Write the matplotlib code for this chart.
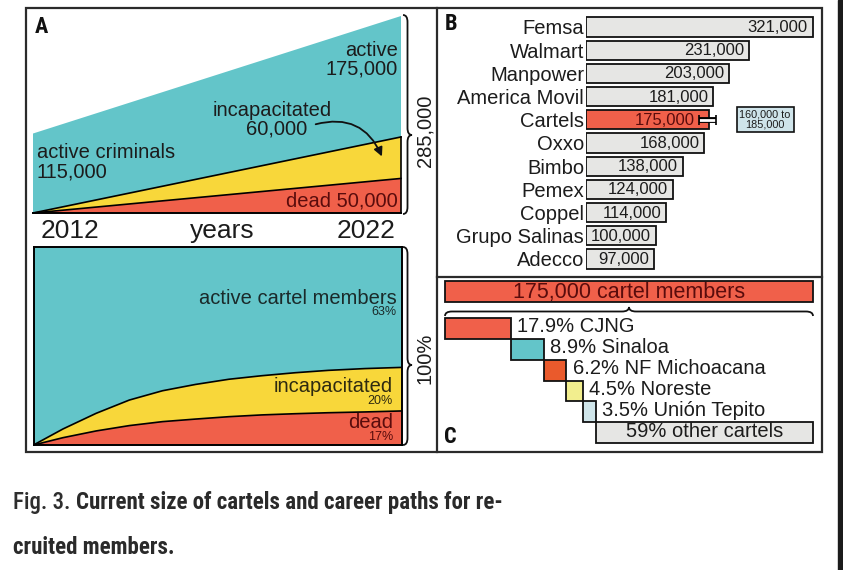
import matplotlib
matplotlib.use('Agg')
import numpy as np
import matplotlib.pyplot as plt
from matplotlib import font_manager
from matplotlib.path import Path
from matplotlib.patches import PathPatch, Rectangle, FancyArrowPatch

# ---- data ----
# A (top): people recruited 2012 -> 2022
years = [2012, 2022]
dead_n = [0, 50000]
incap_n = [0, 60000]
active_n = [115000, 175000]

# A (bottom): career path shares over time
t_share = [0, 0.08, 0.17, 0.26, 0.35, 0.44, 0.53, 0.62, 0.71, 0.80, 0.90, 1.0]
dead_pct = [0, 3.7, 7.1, 9.8, 11.8, 13.1, 14.3, 15.2, 15.8, 16.3, 16.7, 17.2]
incap_pct = [0, 4.4, 8.9, 12.9, 15.6, 17.5, 18.9, 19.8, 20.7, 21.4, 21.9, 22.0]

# B: largest employers in Mexico
companies = ['Femsa', 'Walmart', 'Manpower', 'America Movil', 'Cartels', 'Oxxo',
             'Bimbo', 'Pemex', 'Coppel', 'Grupo Salinas', 'Adecco']
employees = [321000, 231000, 203000, 181000, 175000, 168000, 138000, 124000,
             114000, 100000, 97000]
cartel_low, cartel_high = 160000, 185000

# C: share by cartel
cartel_total = 175000
cartel_names = ['CJNG', 'Sinaloa', 'NF Michoacana', 'Noreste', 'Unión Tepito', 'other cartels']
cartel_share = [17.9, 8.9, 6.2, 4.5, 3.5, 59]

# ---- style ----
CYAN = '#63c5c9'
YELLOW = '#f8d73a'
RED = '#f0604a'
GREY = '#e6e6e4'
TXT = '#1c1c1c'
DARKRED = '#5a0c0c'
c_colors = [RED, CYAN, '#ea5a2c', '#f2ee8e', '#cfe5ea', GREY]

names = {f.name for f in font_manager.fontManager.ttflist}
cond_font = next((n for n in ['Roboto Condensed', 'Liberation Sans Narrow', 'Open Sans Condensed', 'Roboto']
                  if n in names), 'DejaVu Sans')
is_cond = ('Cond' in cond_font) or ('Narrow' in cond_font)

plt.rcParams['font.family'] = ['Liberation Sans', 'DejaVu Sans']

W, H = 843, 570
fig = plt.figure(figsize=(W / 100, H / 100), dpi=100)


def box(x0, y0, x1, y1):
    return [x0 / W, 1 - y1 / H, (x1 - x0) / W, (y1 - y0) / H]


# ---- A top ----
ax1 = fig.add_axes(box(33, 16, 401, 213))
ax1.stackplot(years, dead_n, incap_n, active_n, colors=[RED, YELLOW, CYAN], linewidth=0)
cum = np.array(dead_n) + np.array(incap_n)
ax1.plot(years, dead_n, color='black', lw=1.2, clip_on=False)
ax1.plot(years, cum, color='black', lw=1.2, clip_on=False)
ax1.plot(years, [0, 0], color='black', lw=1.4, clip_on=False)
ax1.plot([years[-1]] * 2, [0, cum[-1]], color='black', lw=1.2, clip_on=False)
ax1.set_xlim(years[0], years[-1])
ax1.set_ylim(0, dead_n[-1] + incap_n[-1] + active_n[-1])
ax1.axis('off')

# ---- A bottom ----
ax2 = fig.add_axes(box(33.5, 247, 402, 445))
active_pct = 100 - np.array(dead_pct) - np.array(incap_pct)
ax2.stackplot(t_share, dead_pct, incap_pct, active_pct, colors=[RED, YELLOW, CYAN], linewidth=0)
ax2.plot(t_share, dead_pct, color='black', lw=1.2)
ax2.plot(t_share, np.array(dead_pct) + np.array(incap_pct), color='black', lw=1.2)
ax2.set_xlim(0, 1)
ax2.set_ylim(0, 100)
ax2.set_xticks([])
ax2.set_yticks([])
for s in ax2.spines.values():
    s.set_linewidth(1.4)
    s.set_color('black')

# ---- B ----
ax3 = fig.add_axes(box(585.5, 15, 822, 272))
rows = np.arange(len(companies))
bcolors = [RED if c == 'Cartels' else GREY for c in companies]
ax3.barh(rows, employees, height=0.82, color=bcolors, edgecolor='#111111', linewidth=1.3)
px = 321000 / 227.0
for r, c, v in zip(rows, companies, employees):
    off = 15 if c == 'Cartels' else 5
    ax3.text(v - off * px, r + 0.02, f'{v:,}', ha='right', va='center', fontsize=12,
             color=DARKRED if c == 'Cartels' else TXT)
ci = companies.index('Cartels')
ax3.plot([cartel_low, cartel_high], [ci, ci], color='black', lw=4.2, solid_capstyle='butt')
ax3.plot([cartel_low, cartel_high], [ci, ci], color='white', lw=2.0, solid_capstyle='butt')
ax3.vlines([cartel_low, cartel_high], ci - 0.22, ci + 0.22, color='black', lw=1.2)
ax3.text(254000, ci, f'{cartel_low:,} to\n{cartel_high:,}', ha='center', va='center',
         fontsize=7.8, color=TXT, linespacing=0.95,
         bbox=dict(boxstyle='square,pad=0.25', fc='#cfe4ea', ec='#111111', lw=1.2))
ax3.set_yticks(rows)
ax3.set_yticklabels(companies, fontsize=14.5, color=TXT)
ax3.tick_params(axis='y', length=0, pad=1)
ax3.set_xticks([])
ax3.set_xlim(0, (822 - 585.5) * px)
ax3.set_ylim((272 - 27) / 23.2, (15 - 27) / 23.2)
for s in ax3.spines.values():
    s.set_visible(False)

# ---- C ----
ax4 = fig.add_axes(box(440, 275, 818, 447))
ax4.barh(-1.27, 100, height=1.0, left=0, color=RED, edgecolor='#111111', linewidth=1.3)
ax4.text(50, -1.25, f'{cartel_total:,} cartel members', ha='center', va='center',
         fontsize=15.5, color=DARKRED)
lefts = np.concatenate([[0], np.cumsum(cartel_share)[:-1]])
for i, (n, s, l, col) in enumerate(zip(cartel_names, cartel_share, lefts, c_colors)):
    ax4.barh(i + 0.5, s, height=1.0, left=l, color=col, edgecolor='#111111', linewidth=1.3)
    if i < len(cartel_names) - 1:
        ax4.text(l + s + 1.7, i + 0.42, f'{s}% {n}', ha='left', va='center', fontsize=14.5, color=TXT)
    else:
        ax4.text(l + s / 2, i + 0.45, f'{s}% {n}', ha='center', va='center', fontsize=14.5, color=TXT)
ax4.set_xlim(-5 / 3.68, 100 + 5 / 3.68)
ax4.set_ylim(6 + 4 / 20.8, (275 - 318) / 20.8)
ax4.axis('off')

# ---- overlay: frames, braces, labels, caption ----
ov = fig.add_axes([0, 0, 1, 1])
ov.set_xlim(0, W)
ov.set_ylim(H, 0)
ov.axis('off')

frame = dict(color='#2b2b2b', lw=1.6)
ov.add_patch(Rectangle((26, 8), 796, 444, fill=False, ec='#2b2b2b', lw=1.6))
ov.plot([437, 437], [8, 452], **frame)
ov.plot([437, 822], [277, 277], **frame)


def brace(x, y0, y1, ym, w, r, horizontal=False):
    pts = [(0, y0), (w / 2, y0), (w / 2, y0 + r), (w / 2, ym - r),
           (w / 2, ym), (w, ym), (w / 2, ym), (w / 2, ym + r),
           (w / 2, y1 - r), (w / 2, y1), (0, y1)]
    codes = [Path.MOVETO, Path.CURVE3, Path.CURVE3, Path.LINETO,
             Path.CURVE3, Path.CURVE3, Path.CURVE3, Path.CURVE3,
             Path.LINETO, Path.CURVE3, Path.CURVE3]
    if horizontal:
        pts = [(v, x - u) for u, v in pts]
    else:
        pts = [(x + u, v) for u, v in pts]
    ov.add_patch(PathPatch(Path(pts, codes), fill=False, ec='#111111', lw=1.3))


brace(403, 15, 214, 135, 9, 7)
brace(403, 247, 445, 365, 9, 7)
brace(316, 445, 813, 629, 9, 7, horizontal=True)

ov.text(425, 131, '285,000', rotation=90, ha='center', va='center', fontsize=14.5, color=TXT)
ov.text(425, 358, '100%', rotation=90, ha='center', va='center', fontsize=14.5, color=TXT)

# panel A top labels
ov.text(398, 50, 'active', ha='right', va='center', fontsize=14.5, color=TXT)
ov.text(398, 69, '175,000', ha='right', va='center', fontsize=14.5, color=TXT)
ov.text(37, 153, 'active criminals', ha='left', va='center', fontsize=14.5, color=TXT)
ov.text(37, 172, '115,000', ha='left', va='center', fontsize=14.5, color=TXT)
ov.text(272, 110, 'incapacitated', ha='center', va='center', fontsize=14.5, color=TXT)
ov.text(277, 129, '60,000', ha='center', va='center', fontsize=14.5, color=TXT)
ov.text(398, 201, 'dead 50,000', ha='right', va='center', fontsize=14.5, color=DARKRED)
ov.add_patch(FancyArrowPatch((313, 125), (383, 159), connectionstyle='arc3,rad=-0.45',
                             arrowstyle='-|>', mutation_scale=13, lw=1.3, color='#111111'))
ov.text(41, 231, '2012', ha='left', va='center', fontsize=19, color=TXT)
ov.text(222, 231, 'years', ha='center', va='center', fontsize=19, color=TXT)
ov.text(396, 231, '2022', ha='right', va='center', fontsize=19, color=TXT)

# panel A bottom labels
ov.text(397, 298, 'active cartel members', ha='right', va='center', fontsize=14.5, color='#1a2a2a')
ov.text(397, 312, '63%', ha='right', va='center', fontsize=9, color='#1a2a2a')
ov.text(393, 386, 'incapacitated', ha='right', va='center', fontsize=14.5, color='#2e2a10')
ov.text(393, 401, '20%', ha='right', va='center', fontsize=9, color='#2e2a10')
ov.text(393, 422, 'dead', ha='right', va='center', fontsize=14.5, color=DARKRED)
ov.text(393, 437, '17%', ha='right', va='center', fontsize=9, color=DARKRED)

# panel letters
for lab, x, y in [('A', 35, 27), ('B', 445, 24), ('C', 444, 437)]:
    ov.text(x, y, lab, ha='left', va='center', fontsize=16, fontweight='bold',
            family=[cond_font, 'DejaVu Sans'], color='#111111')

# caption
cap_size = 16.5 if is_cond else 14.5
cap_fam = [cond_font, 'DejaVu Sans']
t1 = ov.text(13, 502, 'Fig. 3. ', ha='left', va='center', fontsize=cap_size,
             family=cap_fam, fontweight='medium', color='#2e2e2e')
fig.canvas.draw()
bb = t1.get_window_extent()
x_next = ov.transData.inverted().transform((bb.x1, bb.y0))[0]
ov.text(x_next, 502, 'Current size of cartels and career paths for re-', ha='left', va='center',
        fontsize=cap_size, fontweight='bold', family=cap_fam, color='#2a2a2a')
ov.text(13, 548, 'cruited members.', ha='left', va='center', fontsize=cap_size,
        fontweight='bold', family=cap_fam, color='#2a2a2a')

# dark strip at right edge of the screenshot
fig.patches.append(Rectangle((838 / W, 0), 5 / W, 1, transform=fig.transFigure,
                             color='#1b1b1b', zorder=10))

fig.savefig('out.png', dpi=100)
